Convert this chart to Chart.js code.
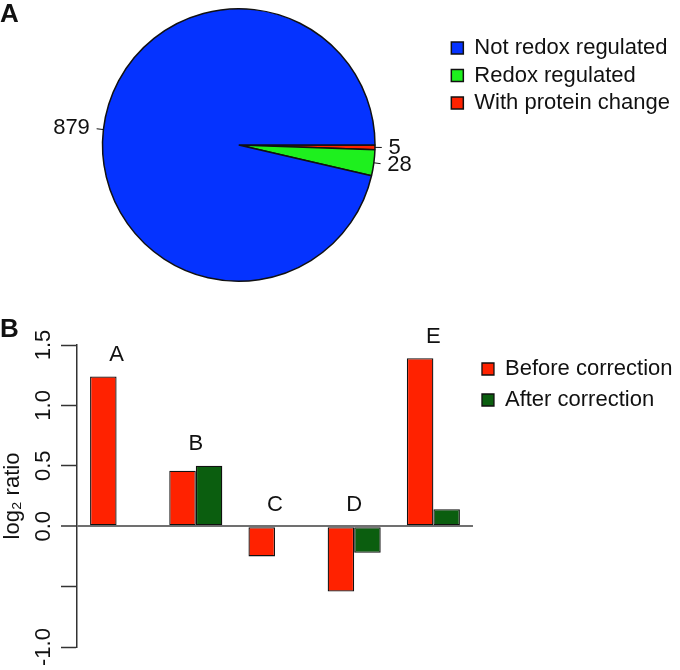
<!DOCTYPE html>
<html>
<head>
<meta charset="utf-8">
<script src="https://cdn.jsdelivr.net/npm/chart.js@4.4.1/dist/chart.umd.min.js"></script>
<style>
  body { margin: 0; background: #fff; }
  .panel { position: absolute; left: 0; }
  .tag { position: absolute; left: 0; font: bold 26px/26px 'Liberation Sans', Arial, sans-serif; color: #111; }
</style>
</head>
<body>
<div class="panel" style="top:0"><canvas id="pieChart" width="680" height="300"></canvas></div>
<div class="panel" style="top:310px"><canvas id="barChart" width="680" height="360"></canvas></div>
<div class="tag" style="top:0">A</div>
<div class="tag" style="top:315px">B</div>
<script>
// panel A: counts
const pieLabels = ["Not redox regulated", "Redox regulated", "With protein change"];
const pieCounts = [879, 28, 5];
const pieColors = ["#0533ff", "#1ef01e", "#ff2200"];

// panel B: log2 ratios
const groups = ["A", "B", "C", "D", "E"];
const beforeCorrection = [1.24, 0.46, -0.25, -0.54, 1.39];
const afterCorrection = [0, 0.5, 0, -0.22, 0.14];
const hiddenTickLabels = [-0.5];

Chart.defaults.font.family = "'Liberation Sans', Arial, Helvetica, sans-serif";
Chart.defaults.color = "#111";

// numbers + little tick lines round the pie, like R's pie()
const pieLabelPlugin = {
  id: "pieLabels",
  afterDatasetsDraw(chart) {
    const ctx = chart.ctx;
    const meta = chart.getDatasetMeta(0);
    const values = chart.data.datasets[0].data;
    ctx.save();
    ctx.strokeStyle = "#111";
    ctx.lineWidth = 1;
    ctx.fillStyle = "#111";
    ctx.font = "22px 'Liberation Sans', Arial, sans-serif";
    ctx.textBaseline = "middle";
    meta.data.forEach((arc, i) => {
      const p = arc.getProps(["x", "y", "startAngle", "endAngle", "outerRadius"], true);
      const mid = (p.startAngle + p.endAngle) / 2;
      const cos = Math.cos(mid);
      const sin = Math.sin(mid);
      const r = p.outerRadius;
      ctx.beginPath();
      ctx.moveTo(p.x + r * cos, p.y + r * sin);
      ctx.lineTo(p.x + 1.05 * r * cos, p.y + 1.05 * r * sin);
      ctx.stroke();
      ctx.textAlign = cos < 0 ? "right" : "left";
      ctx.fillText(String(values[i]), p.x + 1.1 * r * cos, p.y + 1.1 * r * sin);
    });
    ctx.restore();
  },
};

// group letters above each pair of bars
const groupLabelPlugin = {
  id: "groupLabels",
  afterDatasetsDraw(chart) {
    const { ctx, scales } = chart;
    ctx.save();
    ctx.fillStyle = "#111";
    ctx.font = "22px 'Liberation Sans', Arial, sans-serif";
    ctx.textAlign = "center";
    ctx.textBaseline = "middle";
    groups.forEach((g, i) => {
      const top = Math.max(0, beforeCorrection[i], afterCorrection[i]);
      ctx.fillText(g, scales.x.getPixelForValue(i), scales.y.getPixelForValue(top + 0.18));
    });
    ctx.restore();
  },
};

new Chart(document.getElementById("pieChart"), {
  type: "pie",
  data: {
    // R draws counter-clockwise, Chart.js clockwise -> reverse order
    labels: pieLabels.slice().reverse(),
    datasets: [
      {
        data: pieCounts.slice().reverse(),
        backgroundColor: pieColors.slice().reverse(),
        borderColor: "#111",
        borderWidth: 1.5,
      },
    ],
  },
  options: {
    responsive: false,
    animation: false,
    events: [],
    rotation: 90,
    layout: { padding: { top: 8, bottom: 18, left: 31.7, right: 0 } },
    plugins: {
      tooltip: { enabled: false },
      legend: {
        position: "right",
        align: "start",
        reverse: true,
        maxWidth: 320,
        title: { display: true, text: " ", font: { size: 10 }, padding: { top: 0, bottom: 11.5 } },
        labels: { boxWidth: 12, boxHeight: 12, padding: 5.5, color: "#111", font: { size: 22 } },
      },
    },
  },
  plugins: [pieLabelPlugin],
});

new Chart(document.getElementById("barChart"), {
  type: "bar",
  data: {
    labels: groups,
    datasets: [
      {
        label: "Before correction",
        data: beforeCorrection,
        backgroundColor: "#ff2200",
        borderColor: "#111",
        borderWidth: 1.3,
        borderSkipped: false,
      },
      {
        label: "After correction",
        data: afterCorrection,
        backgroundColor: "#0b5e0f",
        borderColor: "#111",
        borderWidth: 1.3,
        borderSkipped: false,
      },
    ],
  },
  options: {
    responsive: false,
    animation: false,
    events: [],
    layout: { padding: { top: 35, bottom: 23, left: 0, right: -2.5 } },
    datasets: { bar: { barPercentage: 1, categoryPercentage: 0.67 } },
    plugins: {
      tooltip: { enabled: false },
      legend: {
        position: "right",
        align: "start",
        maxWidth: 320,
        title: { display: true, text: " ", font: { size: 2 }, padding: { top: 0, bottom: 1.6 } },
        labels: { boxWidth: 12, boxHeight: 12, padding: 9, color: "#111", font: { size: 22 } },
      },
    },
    scales: {
      x: { display: false },
      y: {
        min: -1,
        max: 1.5,
        afterFit: (scale) => {
          scale.width = 77;
        },
        ticks: {
          stepSize: 0.5,
          minRotation: 90,
          maxRotation: 90,
          crossAlign: "center",
          padding: -2,
          color: "#111",
          font: { size: 22 },
          callback: (v) => (hiddenTickLabels.some((h) => Math.abs(h - v) < 1e-9) ? "" : v.toFixed(1)),
        },
        grid: {
          color: (c) => (c.tick && Math.abs(c.tick.value) < 1e-9 ? "#707070" : "rgba(0,0,0,0)"),
          lineWidth: (c) => (c.tick && Math.abs(c.tick.value) < 1e-9 ? 2 : 1),
          tickColor: "#333",
          tickLength: 16,
          tickWidth: 1.5,
        },
        border: { display: true, color: "#333", width: 1.5 },
        title: { display: true, text: "log₂ ratio", color: "#111", font: { size: 22 }, padding: 0 },
      },
    },
  },
  plugins: [groupLabelPlugin],
});
</script>
</body>
</html>
